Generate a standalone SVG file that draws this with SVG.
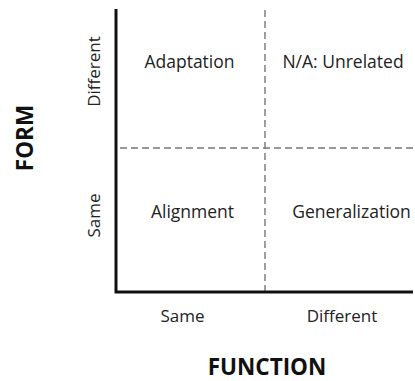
<svg xmlns="http://www.w3.org/2000/svg" width="415" height="381" viewBox="0 0 415 381">
  <style>
    text { font-family: "Open Sans", "Liberation Sans", sans-serif; fill: #222; }
    .cell { font-size: 17.5px; text-anchor: middle; }
    .tick { font-size: 17px; text-anchor: middle; }
    .title { font-size: 22.5px; font-weight: bold; text-anchor: middle; fill: #111; }
    .axis { stroke: #111; stroke-width: 3; fill: none; }
    .grid { stroke: #777; stroke-width: 1.4; stroke-dasharray: 7 4; fill: none; }
  </style>
  <rect width="415" height="381" fill="#fff"/>
  <g id="connectors">
    <line class="grid" x1="265" y1="10" x2="265" y2="292"/>
    <line class="grid" x1="120" y1="148" x2="414" y2="148"/>
    <polyline class="axis" points="116,9 116,292 413,292"/>
  </g>
  <g id="adaptation"><text class="cell" x="189.5" y="68">Adaptation</text></g>
  <g id="unrelated"><text class="cell" x="343" y="68">N/A: Unrelated</text></g>
  <g id="alignment"><text class="cell" x="192.5" y="218">Alignment</text></g>
  <g id="generalization"><text class="cell" x="351.5" y="218">Generalization</text></g>
  <g id="axis-labels">
    <text class="tick" x="182.5" y="322">Same</text>
    <text class="tick" x="342" y="322">Different</text>
    <text class="tick" transform="translate(100,71.5) rotate(-90)">Different</text>
    <text class="tick" transform="translate(100,215.5) rotate(-90)">Same</text>
    <text class="title" x="267" y="375">FUNCTION</text>
    <text class="title" transform="translate(33,138) rotate(-90)">FORM</text>
  </g>
</svg>
